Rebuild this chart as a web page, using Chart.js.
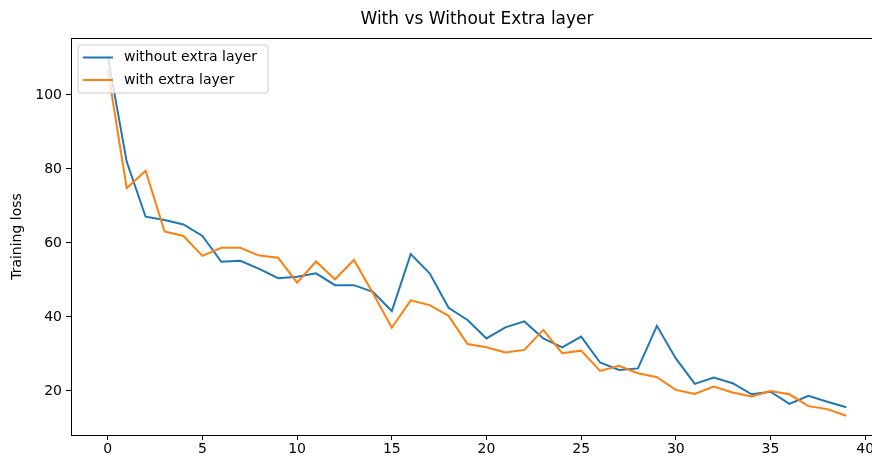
<!DOCTYPE html>
<html>
<head>
<meta charset="utf-8">
<script src="https://cdn.jsdelivr.net/npm/chart.js@4.4.1/dist/chart.umd.min.js"></script>
<style>
  html, body { margin: 0; padding: 0; background: #fff; overflow: hidden; }
  #wrap { width: 872px; height: 457px; overflow: hidden; }
</style>
</head>
<body>
<div id="wrap"><canvas id="lossChart" width="884" height="457"></canvas></div>
<script>
const chartTitle = "With vs Without Extra layer";
const yLabel = "Training loss";
const epochs = [0,1,2,3,4,5,6,7,8,9,10,11,12,13,14,15,16,17,18,19,20,21,22,23,24,25,26,27,28,29,30,31,32,33,34,35,36,37,38,39];
const withoutExtra = [110.5,82.0,67.1,66.2,65.0,61.9,54.9,55.2,53.0,50.5,50.9,51.8,48.6,48.6,46.8,41.6,57.0,51.8,42.5,39.2,34.2,37.2,38.8,34.2,31.8,34.7,27.7,25.7,26.1,37.6,28.8,21.9,23.6,22.1,19.1,19.8,16.5,18.7,17.1,15.6];
const withExtra = [107.0,74.8,79.5,63.1,61.9,56.5,58.7,58.7,56.6,56.0,49.3,55.0,50.2,55.4,46.5,37.1,44.5,43.2,40.3,32.7,31.8,30.4,31.1,36.5,30.2,30.9,25.4,26.8,24.8,23.7,20.3,19.2,21.2,19.6,18.5,20.0,19.1,15.9,15.1,13.3];
const seriesNames = ["without extra layer", "with extra layer"];
const seriesColors = ["#1f77b4", "#ff7f0e"];
const xTicks = [0, 5, 10, 15, 20, 25, 30, 35, 40];
const yTicks = [20, 40, 60, 80, 100];

const FONT = "'DejaVu Sans', sans-serif";

// frame, title and legend drawn like matplotlib
const mplDecor = {
  id: "mplDecor",
  afterDraw(chart) {
    const { ctx, chartArea: a } = chart;
    ctx.save();
    ctx.strokeStyle = "#000";
    ctx.lineWidth = 1;
    ctx.strokeRect(Math.round(a.left) + 0.5, Math.round(a.top) + 0.5, Math.round(a.right - a.left), Math.round(a.bottom - a.top));

    ctx.fillStyle = "#000";
    ctx.font = "17px " + FONT;
    ctx.textAlign = "center";
    ctx.textBaseline = "middle";
    ctx.fillText(chartTitle, (a.left + a.right) / 2, 20);

    // legend box
    const bx = 78, by = 45, bw = 190, bh = 48, r = 3;
    ctx.beginPath();
    ctx.moveTo(bx + r, by);
    ctx.arcTo(bx + bw, by, bx + bw, by + bh, r);
    ctx.arcTo(bx + bw, by + bh, bx, by + bh, r);
    ctx.arcTo(bx, by + bh, bx, by, r);
    ctx.arcTo(bx, by, bx + bw, by, r);
    ctx.closePath();
    ctx.fillStyle = "rgba(255,255,255,0.8)";
    ctx.fill();
    ctx.strokeStyle = "#cccccc";
    ctx.stroke();

    ctx.font = "14px " + FONT;
    ctx.textAlign = "left";
    seriesNames.forEach((name, i) => {
      const y = 57.5 + i * 22.5;
      ctx.strokeStyle = seriesColors[i];
      ctx.lineWidth = 2;
      ctx.beginPath();
      ctx.moveTo(83, y);
      ctx.lineTo(113, y);
      ctx.stroke();
      ctx.fillStyle = "#000";
      ctx.fillText(name, 124, y);
    });
    ctx.restore();
  },
};

const toPoints = (vals) => epochs.map((e, i) => ({ x: e, y: vals[i] }));

new Chart(document.getElementById("lossChart"), {
  type: "line",
  data: {
    datasets: [
      {
        label: seriesNames[0],
        data: toPoints(withoutExtra),
        borderColor: seriesColors[0],
        borderWidth: 2,
        pointRadius: 0,
        tension: 0,
        order: 1,
      },
      {
        label: seriesNames[1],
        data: toPoints(withExtra),
        borderColor: seriesColors[1],
        borderWidth: 2,
        pointRadius: 0,
        tension: 0,
        order: 0,
      },
    ],
  },
  options: {
    responsive: false,
    animation: false,
    layout: { padding: { top: 38, right: 1, left: 0, bottom: 0 } },
    plugins: {
      legend: { display: false },
      title: { display: false },
      tooltip: { enabled: false },
    },
    scales: {
      x: {
        type: "linear",
        min: -1.94,
        max: 40.94,
        afterBuildTicks: (s) => { s.ticks = xTicks.map((v) => ({ value: v })); },
        afterFit: (s) => { s.height = 22; },
        grid: { drawOnChartArea: false, drawTicks: true, tickLength: 5, tickColor: "#000" },
        border: { color: "#000", width: 1 },
        ticks: { color: "#000", padding: 1, maxRotation: 0, font: { family: FONT, size: 14 } },
      },
      y: {
        type: "linear",
        min: 8.1,
        max: 115.4,
        afterBuildTicks: (s) => { s.ticks = yTicks.map((v) => ({ value: v })); },
        afterFit: (s) => { s.width = 71; },
        grid: { drawOnChartArea: false, drawTicks: true, tickLength: 5, tickColor: "#000" },
        border: { color: "#000", width: 1 },
        ticks: { color: "#000", padding: 4, font: { family: FONT, size: 14 } },
        title: {
          display: true,
          text: yLabel,
          color: "#000",
          padding: { top: 9, bottom: 0 },
          font: { family: FONT, size: 14 },
        },
      },
    },
  },
  plugins: [mplDecor],
});
</script>
</body>
</html>
